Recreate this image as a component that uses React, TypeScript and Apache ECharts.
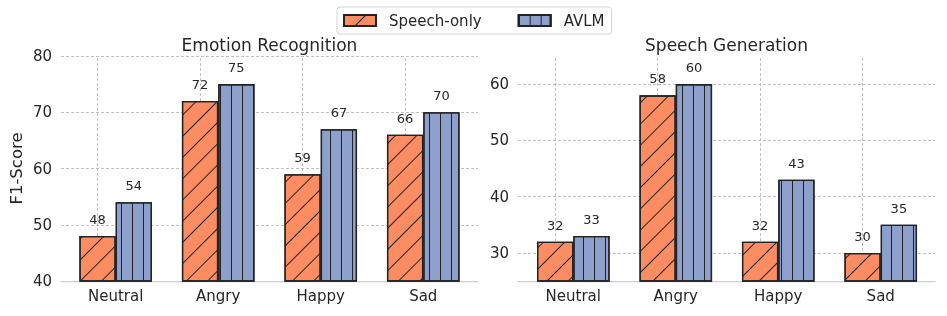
import React, { useEffect, useRef } from 'react';
import * as echarts from 'echarts';

const categories = ['Neutral', 'Angry', 'Happy', 'Sad'];
const seriesNames = ['Speech-only', 'AVLM'];
const titles = ['Emotion Recognition', 'Speech Generation'];
const yLabel = 'F1-Score';

const erSpeechOnly = [48, 72, 59, 66];
const erAVLM = [54, 75, 67, 70];
const sgSpeechOnly = [32, 58, 32, 30];
const sgAVLM = [33, 60, 43, 35];

const erTicks = [40, 50, 60, 70, 80];
const sgTicks = [30, 40, 50, 60];
const erRange = [40, 80];
const sgRange = [25, 65];

const FONT = 'DejaVu Sans';
const TEXT = '#262626';
const GRID_COLOR = '#b0b0b0';
const EDGE = '#222222';
const ORANGE = '#fc8d62';
const BLUE = '#8da0cb';

export default function App() {
  const ref = useRef<HTMLDivElement>(null);
  useEffect(() => {
    const chart = echarts.init(ref.current!, null, { renderer: 'svg' });
    const plotTop = 56;
    const plotH = 225;
    const panels = [
      { bgLeft: 61, bgW: 417, barLeft: 64.43, barW: 410.1, range: erRange, ticks: erTicks, a: erSpeechOnly, b: erAVLM, title: titles[0] },
      { bgLeft: 518, bgW: 417, barLeft: 522.07, barW: 409.9, range: sgRange, ticks: sgTicks, a: sgSpeechOnly, b: sgAVLM, title: titles[1] },
    ];
    const grid: any[] = [];
    const xAxis: any[] = [];
    const yAxis: any[] = [];
    const series: any[] = [];
    const graphic: any[] = [];
    const gridLine = { color: GRID_COLOR, type: [3, 2], width: 0.8 };
    const orangeDecal = {
      symbol: 'rect', symbolSize: 1, symbolKeepAspect: false, color: EDGE,
      dashArrayX: [1, 14], dashArrayY: [1, 0], rotation: Math.PI / 4,
    };
    const blueDecal = {
      symbol: 'rect', symbolSize: 1, symbolKeepAspect: false, color: EDGE,
      dashArrayX: [1, 10], dashArrayY: [1, 0], rotation: 0,
    };
    panels.forEach((p, i) => {
      const [yMin, yMax] = p.range;
      const tMin = p.ticks[0];
      const tMax = p.ticks[p.ticks.length - 1];
      const scale = plotH / (yMax - yMin);
      const bgTop = plotTop + (yMax - tMax) * scale;
      const bgH = (tMax - tMin) * scale;
      const off = plotTop + plotH - (bgTop + bgH);
      grid.push({ left: p.bgLeft, top: bgTop, width: p.bgW, height: bgH, outerBoundsMode: 'none' });
      grid.push({ left: p.barLeft, top: plotTop, width: p.barW, height: plotH, outerBoundsMode: 'none' });
      xAxis.push({
        type: 'value', gridIndex: 2 * i, min: 0, max: 1, offset: off,
        axisLine: { show: true, onZero: false, lineStyle: { color: '#cccccc', width: 1.25 } },
        axisTick: { show: false }, axisLabel: { show: false }, splitLine: { show: false },
      });
      xAxis.push({
        type: 'category', gridIndex: 2 * i + 1, data: categories,
        axisLine: { show: false }, axisTick: { show: false },
        axisLabel: { fontSize: 15, color: TEXT, fontFamily: FONT, margin: 7 },
        splitLine: { show: false },
      });
      yAxis.push({
        type: 'value', gridIndex: 2 * i, min: tMin, max: tMax, interval: 10,
        axisLine: { show: false }, axisTick: { show: false },
        axisLabel: { fontSize: 15, color: TEXT, fontFamily: FONT, margin: 9 },
        splitLine: { show: true, lineStyle: gridLine },
        ...(i === 0
          ? { name: yLabel, nameLocation: 'middle', nameGap: 36, nameTextStyle: { fontSize: 16.5, color: TEXT, fontFamily: FONT } }
          : {}),
      });
      yAxis.push({ type: 'value', gridIndex: 2 * i + 1, min: yMin, max: yMax, show: false });
      const label = { show: true, position: 'top', distance: 10, fontSize: 13, color: TEXT, fontFamily: FONT };
      series.push({
        type: 'bar', name: seriesNames[0], xAxisIndex: 2 * i + 1, yAxisIndex: 2 * i + 1,
        data: p.a, barWidth: 36.3, barGap: '0%',
        itemStyle: { color: ORANGE, borderColor: EDGE, borderWidth: 1.3, decal: orangeDecal },
        label, emphasis: { disabled: true },
        markLine: {
          silent: true, symbol: ['none', 'none'], z: 1,
          label: { show: false }, lineStyle: gridLine,
          data: categories.map((c) => ({ xAxis: c })),
        },
      });
      series.push({
        type: 'bar', name: seriesNames[1], xAxisIndex: 2 * i + 1, yAxisIndex: 2 * i + 1,
        data: p.b, barWidth: 36.3, barGap: '0%',
        itemStyle: { color: BLUE, borderColor: EDGE, borderWidth: 1.3, decal: blueDecal },
        label, emphasis: { disabled: true },
      });
      graphic.push({
        type: 'text', x: p.bgLeft + p.bgW / 2, y: 45,
        style: {
          text: p.title, fontSize: 17, fontFamily: FONT, fill: TEXT,
          align: 'center', verticalAlign: 'middle', textAlign: 'center', textVerticalAlign: 'middle',
        },
      });
    });
    chart.setOption({
      animation: false,
      aria: { enabled: true, decal: { show: true } },
      textStyle: { fontFamily: FONT },
      grid, xAxis, yAxis, series, graphic,
      legend: {
        data: seriesNames, left: 337, top: 7, orient: 'horizontal',
        itemWidth: 32, itemHeight: 11, itemGap: 36, padding: [6, 7, 6, 6],
        borderColor: '#d5d5d5', borderWidth: 1, borderRadius: 3,
        backgroundColor: 'rgba(255,255,255,0.8)', selectedMode: false, icon: 'rect',
        textStyle: { fontSize: 15, color: TEXT, fontFamily: FONT, padding: [0, 0, 0, 8] },
      },
    });
    return () => chart.dispose();
  }, []);
  return <div ref={ref} style={{ position: 'fixed', left: 0, top: 0, width: 947, height: 316 }} />;
}
